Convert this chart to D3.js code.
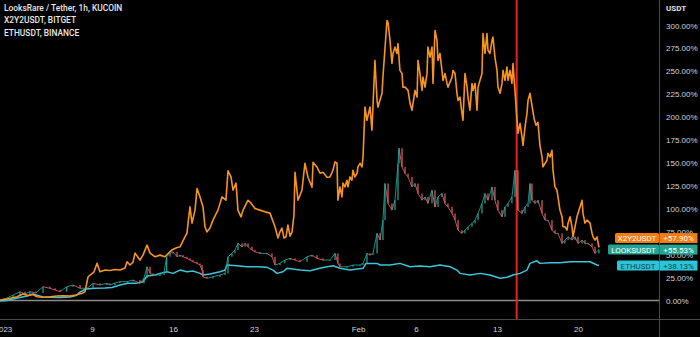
<!DOCTYPE html>
<html>
<head>
<meta charset="utf-8">
<script src="https://cdn.jsdelivr.net/npm/d3@7"></script>
<style>
  html, body { margin: 0; padding: 0; background: #000; }
  svg { display: block; font-family: Roboto, "Noto Sans", sans-serif; }
</style>
</head>
<body>
<script>
var svg_width = 700;
var svg_height = 337;

var titles = ["LooksRare / Tether, 1h, KUCOIN", "X2Y2USDT, BITGET", "ETHUSDT, BINANCE"];

var yTicks = [0, 25, 50, 75, 100, 125, 150, 175, 200, 225, 250, 275, 300];
var xTickDates = [new Date(2023, 0, 1), new Date(2023, 0, 9), new Date(2023, 0, 16), new Date(2023, 0, 23),
  new Date(2023, 1, 1), new Date(2023, 1, 6), new Date(2023, 1, 13), new Date(2023, 1, 20)];
var xTickLabels = ["2023", "9", "16", "23", "Feb", "6", "13", "20"];

var markerDate = new Date(2023, 1, 14, 17);

// days since 2023-01-01 00:00, % change
var x2y2Days = [0.05, 0.66, 1.52, 2.04, 2.47, 2.90, 3.25, 3.77, 4.37, 4.98, 5.50, 6.10, 6.62, 7.14, 7.40, 7.66, 7.83, 8.17, 8.44, 8.69,
  9.13, 9.56, 9.99, 10.42, 10.86, 11.03, 11.29, 11.55, 11.72, 12.15, 12.41, 12.76, 13.02, 13.45, 13.88, 14.31, 14.89, 15.26, 15.61, 16.04,
  16.21, 16.47, 16.65, 16.91, 17.08, 17.34, 17.60, 17.77, 17.94, 18.20, 18.46, 18.89, 19.24, 19.58, 19.76, 20.02, 20.19, 20.45, 20.62, 20.88,
  21.06, 21.49, 21.75, 22.09, 22.52, 22.96, 23.39, 23.82, 24.08, 24.25, 24.42, 24.60, 24.77, 24.94, 25.12, 25.29, 25.46, 25.55, 25.81, 26.15,
  26.41, 26.67, 27.02, 27.11, 27.45, 27.71, 27.97, 28.31, 28.57, 28.83, 29.01, 29.18, 29.26, 29.44, 29.61, 29.70, 29.87, 30.04, 30.13, 30.30,
  30.47, 30.56, 30.73, 30.91, 30.99, 31.17, 31.34, 31.43, 31.60, 31.77, 32.03, 32.20, 32.46, 32.64, 32.72, 33.07, 33.15, 33.50, 33.59, 33.76,
  33.93, 34.02, 34.19, 34.36, 34.45, 34.62, 34.80, 34.88, 35.06, 35.32, 35.49, 35.66, 35.92, 36.10, 36.18, 36.35, 36.53, 36.61, 36.79, 36.96,
  37.04, 37.22, 37.39, 37.48, 37.65, 37.82, 37.91, 38.08, 38.25, 38.34, 38.51, 38.69, 38.77, 39.12, 39.21, 39.38, 39.55, 39.64, 39.81, 39.98,
  40.07, 40.24, 40.42, 40.50, 40.67, 40.85, 40.93, 41.11, 41.28, 41.37, 41.71, 41.80, 41.97, 42.14, 42.23, 42.40, 42.58, 42.66, 42.83, 43.01,
  43.09, 43.27, 43.44, 43.53, 43.70, 43.87, 43.96, 44.13, 44.30, 44.39, 44.56, 44.74, 44.82, 45.00, 45.17, 45.26, 45.43, 45.60, 45.69, 45.86,
  46.03, 46.21, 46.38, 46.55, 46.72, 46.90, 46.98, 47.33, 47.42, 47.59, 47.76, 47.85, 48.02, 48.19, 48.28, 48.45, 48.63, 48.71, 48.88, 49.06,
  49.15, 49.32, 49.49, 49.58, 49.75, 49.92, 50.18, 50.36, 50.44, 50.61, 50.79, 51.05, 51.22, 51.31, 51.48, 51.65, 51.82];
var x2y2Pct = [0.5, 1.6, 4.1, 7.1, 5.4, 6.5, 4.1, 3.5, 4.1, 4.9, 5.2, 4.9, 6.0, 7.8, 9.6, 25.6, 27.8, 31.0, 40.5, 31.4,
  33.2, 32.7, 33.8, 33.2, 35.4, 42.3, 38.7, 41.9, 51.7, 44.1, 49.5, 60.4, 51.7, 47.7, 49.5, 47.7, 55.0, 57.2, 58.6, 69.5,
  73.5, 102.1, 84.4, 98.6, 122.2, 113.0, 102.1, 80.4, 74.9, 79.0, 87.7, 98.6, 113.0, 109.4, 141.4, 134.8, 120.3, 128.0, 98.6, 91.3,
  98.6, 109.4, 106.2, 100.4, 98.6, 96.7, 95.3, 80.4, 68.1, 74.9, 79.0, 68.1, 69.5, 82.2, 70.2, 74.6, 93.1, 139.9, 109.4, 120.3,
  149.7, 134.5, 123.6, 150.8, 145.4, 138.8, 139.9, 134.5, 134.8, 142.1, 151.2, 149.7, 109.4, 123.9, 113.0, 128.0, 123.9, 131.2, 123.9, 134.8,
  131.2, 142.1, 134.8, 138.8, 145.7, 149.7, 145.7, 156.6, 211.0, 196.6, 211.0, 185.7, 261.9, 218.3, 211.0, 226.0, 243.7, 305.5, 303.3, 283.7,
  258.6, 269.5, 276.4, 269.5, 280.4, 251.0, 247.7, 232.8, 232.8, 229.2, 215.1, 207.5, 229.2, 221.9, 261.9, 247.7, 229.2, 243.7, 232.8, 247.7,
  276.4, 265.5, 276.4, 236.8, 294.6, 283.7, 261.9, 269.5, 251.0, 240.1, 247.7, 236.8, 232.8, 243.7, 251.0, 247.7, 226.0, 218.3, 221.9, 204.2,
  196.6, 247.7, 232.8, 221.9, 207.5, 236.8, 229.2, 236.8, 207.5, 232.8, 247.7, 291.3, 269.5, 291.3, 272.8, 269.5, 283.7, 287.3, 265.5, 251.0,
  232.8, 226.0, 236.8, 251.0, 240.1, 254.6, 240.1, 251.0, 236.8, 258.6, 229.2, 196.6, 182.4, 193.3, 178.4, 169.3, 189.3, 204.2, 218.3, 226.0,
  212.9, 198.7, 191.1, 194.4, 169.3, 156.6, 145.7, 153.0, 160.6, 156.6, 163.9, 142.1, 123.9, 120.3, 113.0, 98.6, 91.3, 80.4, 80.4, 76.8,
  84.4, 91.3, 80.4, 69.5, 80.4, 91.3, 102.1, 109.4, 95.3, 84.4, 87.7, 84.4, 73.5, 69.5, 65.9, 69.5, 57.9];

var looksDays = [0.05, 0.66, 1.18, 1.78, 2.21, 2.64, 3.16, 3.77, 4.37, 4.81, 5.24, 5.82, 6.36, 6.97, 7.57, 8.09, 8.69, 9.30, 9.56, 9.99,
  10.42, 11.03, 11.55, 12.15, 12.50, 12.76, 13.02, 13.28, 13.88, 14.23, 14.46, 14.75, 15.00, 15.35, 15.61, 15.87, 16.21, 16.47, 16.73, 17.08,
  17.34, 17.51, 17.60, 17.94, 18.46, 19.07, 19.50, 19.76, 20.10, 20.36, 20.62, 20.97, 21.23, 21.49, 21.83, 22.09, 22.52, 23.13, 23.56, 23.82,
  24.25, 24.68, 25.12, 25.55, 25.98, 26.59, 27.02, 27.45, 27.97, 28.57, 29.01, 29.26, 29.44, 30.04, 30.56, 31.17, 31.43, 31.77, 32.03, 32.29,
  32.64, 32.90, 33.15, 33.33, 33.59, 33.93, 34.19, 34.45, 34.54, 34.80, 35.06, 35.32, 35.66, 35.92, 36.18, 36.53, 36.79, 37.04, 37.39, 37.65,
  37.91, 38.25, 38.51, 38.77, 39.12, 39.38, 39.64, 39.98, 40.24, 40.50, 40.85, 41.11, 41.37, 41.71, 41.97, 42.23, 42.58, 42.83, 43.09, 43.44,
  43.70, 43.96, 44.30, 44.56, 44.82, 45.17, 45.43, 45.69, 45.86, 46.03, 46.29, 46.55, 46.90, 47.16, 47.42, 47.76, 48.02, 48.28, 48.63, 48.88,
  49.15, 49.49, 49.75, 50.01, 50.36, 50.61, 50.87, 51.22, 51.48, 51.82];
var looksPct = [0.5, 2.7, 6.0, 9.6, 7.1, 9.6, 8.2, 15.0, 13.3, 11.4, 9.6, 15.0, 16.9, 13.3, 13.3, 18.7, 16.9, 18.7, 16.9, 19.1,
  20.5, 20.5, 22.3, 18.7, 24.5, 36.8, 29.6, 27.8, 27.8, 31.0, 47.7, 51.4, 53.1, 47.7, 49.5, 47.7, 46.0, 44.1, 42.3, 40.5,
  38.7, 33.2, 25.9, 24.2, 25.9, 27.8, 29.6, 47.7, 51.4, 55.0, 62.3, 58.6, 62.3, 58.6, 55.0, 53.1, 51.4, 51.4, 47.7, 38.7,
  40.5, 44.1, 46.0, 44.1, 42.3, 47.7, 49.5, 46.0, 44.1, 44.1, 51.4, 40.5, 36.8, 36.8, 38.7, 38.7, 40.5, 51.4, 49.5, 51.4,
  73.2, 65.9, 87.7, 127.6, 105.9, 98.6, 109.4, 149.4, 166.1, 145.7, 138.5, 134.8, 123.9, 127.6, 116.7, 109.4, 113.0, 105.9, 120.3, 102.1,
  113.0, 116.7, 105.9, 102.1, 95.0, 87.7, 76.8, 73.2, 76.8, 80.4, 84.1, 87.7, 95.0, 105.9, 116.7, 109.4, 123.9, 109.4, 98.6, 91.3,
  102.1, 105.9, 113.0, 142.1, 98.6, 95.0, 102.1, 105.9, 127.6, 109.4, 105.9, 109.4, 95.0, 87.7, 87.7, 76.8, 73.2, 73.2, 62.3, 65.9,
  69.5, 65.9, 69.5, 62.3, 65.9, 62.3, 62.3, 58.6, 51.4, 55.53];

var ethDays = [0.05, 0.66, 1.18, 1.78, 2.39, 2.90, 3.34, 3.77, 4.37, 5.24, 6.10, 6.62, 6.97, 7.48, 8.26, 9.13, 9.73, 10.42, 11.11, 11.80,
  12.41, 12.76, 13.45, 13.88, 14.49, 15.00, 15.61, 16.21, 16.73, 17.34, 17.60, 18.20, 19.07, 19.50, 19.67, 20.54, 21.40, 22.26, 23.13, 23.65,
  23.99, 24.51, 24.86, 25.98, 26.85, 27.71, 28.31, 28.83, 29.44, 30.30, 31.43, 31.69, 32.64, 32.90, 33.76, 34.62, 35.49, 36.35, 37.22, 38.08,
  38.95, 39.55, 39.81, 40.67, 41.54, 42.40, 43.27, 43.87, 44.39, 45.00, 45.60, 45.86, 46.46, 46.72, 47.59, 48.45, 49.32, 50.18, 51.05, 51.65,
  51.82];
var ethPct = [-0.5, 0.0, 1.6, 3.3, 4.9, 7.1, 5.4, 3.8, 3.5, 3.3, 3.8, 5.4, 9.3, 12.5, 13.3, 13.6, 14.2, 16.9, 18.7, 18.7,
  20.5, 26.7, 27.8, 29.6, 31.4, 29.6, 33.2, 31.4, 32.1, 29.6, 27.8, 28.9, 31.4, 33.2, 38.7, 37.9, 36.8, 36.8, 36.2, 33.2,
  29.6, 31.4, 35.1, 33.2, 32.5, 35.1, 36.8, 37.9, 35.1, 33.2, 35.1, 40.5, 40.5, 38.7, 38.7, 40.5, 36.8, 37.6, 36.8, 38.7,
  36.8, 33.2, 29.6, 27.8, 29.6, 27.8, 24.2, 25.3, 27.8, 29.6, 33.2, 40.5, 43.3, 40.5, 41.2, 41.2, 42.3, 42.3, 42.3, 38.7,
  38.13];

var badgeNames = ["X2Y2USDT", "LOOKSUSDT", "ETHUSDT"];
var badgeValues = [57.90, 55.53, 38.13];
var badgeColors = ["#f27c10", "#24a394", "#2ec4d8"];
var badgeText = ["#ffffff", "#ffffff", "#0f4353"];
var badgeWidths = [44, 51, 42];

var orange = "#f7941d";
var cyan = "#3cc6da";
var upColor = "#26a69a";
var downColor = "#e0616a";

var plotRight = 659;
var start = new Date(2023, 0, 1);
function toDate(d) { return new Date(start.getTime() + d * 864e5); }

var svg = d3.select("body")
  .append("svg")
  .attr("width", svg_width)
  .attr("height", svg_height);

svg.append("rect").attr("width", svg_width).attr("height", svg_height).attr("fill", "#000");

var x = d3.scaleTime()
  .domain([new Date(2023, 0, 1, 1, 15), new Date(2023, 1, 27, 0, 15)])
  .range([0, plotRight]);
var y = d3.scaleLinear().domain([0, 300]).range([300.5, 25.5]);

// frame lines
svg.append("line").attr("x1", plotRight + 0.5).attr("x2", plotRight + 0.5).attr("y1", 0).attr("y2", svg_height)
  .attr("stroke", "#4a4a4a").attr("stroke-width", 1);
svg.append("line").attr("x1", 0).attr("x2", svg_width).attr("y1", 319.5).attr("y2", 319.5)
  .attr("stroke", "#4a4a4a").attr("stroke-width", 1);

// zero line
svg.append("line").attr("x1", 0).attr("x2", plotRight).attr("y1", y(0)).attr("y2", y(0))
  .attr("stroke", "#8a8a8a").attr("stroke-width", 1.5);

// marker
svg.append("line").attr("x1", x(markerDate)).attr("x2", x(markerDate)).attr("y1", 0).attr("y2", 319)
  .attr("stroke", "#e3231f").attr("stroke-width", 2);

var toPoints = function(days, vals) {
  return days.map(function(d, i) { return { date: toDate(d), v: vals[i] }; });
};
var x2y2 = toPoints(x2y2Days, x2y2Pct);
var looks = toPoints(looksDays, looksPct);
var eth = toPoints(ethDays, ethPct);

var line = d3.line().x(d => x(d.date)).y(d => y(d.v));

// ETH line
svg.append("path").datum(eth).attr("d", line)
  .attr("fill", "none").attr("stroke", cyan).attr("stroke-width", 1.5).attr("stroke-linejoin", "round");

// LOOKS candles (open = previous close)
var candles = looks.slice(1).map(function(d, i) {
  return { date0: looks[i].date, date: d.date, open: looks[i].v, close: d.v };
});
var cg = svg.append("g");
cg.selectAll("line.seg").data(candles).enter().append("line")
  .attr("x1", d => x(d.date0)).attr("y1", d => y(d.open))
  .attr("x2", d => x(d.date)).attr("y2", d => y(d.close))
  .attr("stroke", d => d.close >= d.open ? upColor : downColor)
  .attr("stroke-width", 1).attr("opacity", 0.85);
cg.selectAll("rect").data(candles).enter().append("rect")
  .attr("x", d => x(d.date) - 0.6)
  .attr("y", d => y(Math.max(d.open, d.close)))
  .attr("width", 1.2)
  .attr("height", d => Math.max(1, Math.abs(y(d.open) - y(d.close))))
  .attr("fill", d => d.close >= d.open ? upColor : downColor);

// X2Y2 line
svg.append("path").datum(x2y2).attr("d", line)
  .attr("fill", "none").attr("stroke", orange).attr("stroke-width", 1.6).attr("stroke-linejoin", "round");

// right axis
var yAxis = svg.append("g")
  .attr("transform", `translate(${plotRight}, 0)`)
  .call(d3.axisRight(y).tickValues(yTicks).tickSize(0).tickPadding(7)
    .tickFormat(d => d.toFixed(2) + "%"));
yAxis.select(".domain").remove();
yAxis.selectAll("text").attr("fill", "#d1d4dc").style("font-size", "8px");

svg.append("text").attr("x", 666).attr("y", 11).attr("fill", "#e0e3eb")
  .style("font-size", "8px").style("font-weight", "bold").text("USDT");

// bottom axis
var xAxis = svg.append("g")
  .attr("transform", "translate(0, 320)")
  .call(d3.axisBottom(x).tickValues(xTickDates).tickSize(0).tickPadding(6)
    .tickFormat((d, i) => xTickLabels[i]));
xAxis.select(".domain").remove();
xAxis.selectAll("text").attr("fill", "#d1d4dc").style("font-size", "8px");
// year label sits a bit right of its day, clipped at the edge
xAxis.selectAll("text").filter((d, i) => i === 0).attr("dx", 3.5);

// titles
svg.selectAll("text.title").data(titles).enter().append("text")
  .attr("class", "title")
  .attr("x", 4).attr("y", (d, i) => 10.5 + i * 12.7)
  .attr("fill", "#e8e8e8").style("font-size", "8.4px").style("font-weight", 500)
  .text(d => d);

// last value badges, pushed apart like the platform does
var badges = badgeNames.map(function(n, i) {
  return { name: n, value: badgeValues[i], color: badgeColors[i], text: badgeText[i], w: badgeWidths[i], cy: y(badgeValues[i]) };
});
var sorted = badges.slice().sort((a, b) => b.cy - a.cy);
for (var i = 1; i < sorted.length; i++) {
  if (sorted[i - 1].cy - sorted[i].cy < 11.5) sorted[i].cy = sorted[i - 1].cy - 11.5;
}

var bg = svg.selectAll("g.badge").data(badges).enter().append("g").attr("class", "badge");
bg.append("rect")
  .attr("x", d => plotRight - d.w).attr("y", d => d.cy - 5).attr("width", d => d.w).attr("height", 10)
  .attr("rx", 1.5).attr("fill", d => d.color);
bg.append("rect")
  .attr("x", plotRight + 0.5).attr("y", d => d.cy - 5).attr("width", 38).attr("height", 10)
  .attr("fill", d => d.color);
bg.append("text")
  .attr("x", d => plotRight - d.w / 2).attr("y", d => d.cy + 3)
  .attr("text-anchor", "middle").attr("fill", d => d.text).style("font-size", "8px")
  .text(d => d.name);
bg.append("text")
  .attr("x", plotRight + 19.5).attr("y", d => d.cy + 3)
  .attr("text-anchor", "middle").attr("fill", d => d.text).style("font-size", "8px")
  .text(d => "+" + d.value.toFixed(2) + "%");
</script>
</body>
</html>
